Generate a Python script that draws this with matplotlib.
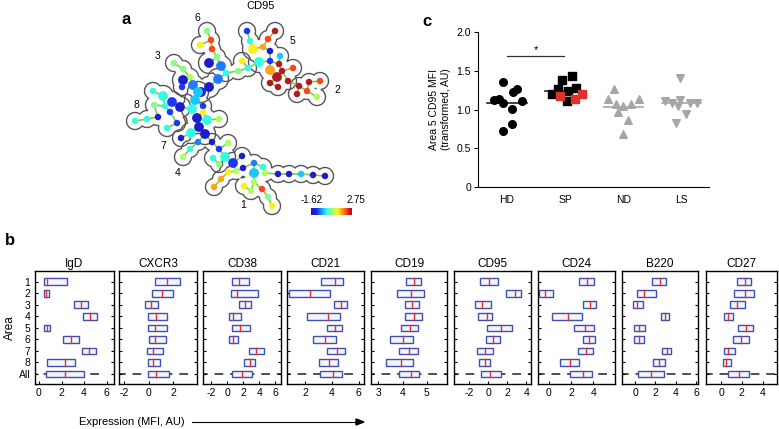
import numpy as np
import matplotlib.pyplot as plt
from matplotlib.colors import ListedColormap

plt.rcParams['font.family'] = ['Liberation Sans', 'DejaVu Sans']
plt.rcParams['axes.unicode_minus'] = False

W, H = 779, 429

# ---------------- panel a: CD95 tree ----------------
# colour classes -> CD95 value (scale -1.62 .. 2.75)
cls_val = {'DB': -1.35, 'B': -0.95, 'MB': -0.6, 'LB': -0.25, 'C': 0.05, 'LG': 0.55,
           'YG': 0.8, 'Y': 1.25, 'O': 1.65, 'R': 2.15, 'DR': 2.6}
cbar_min, cbar_max = -1.62, 2.75

# (x, y, colour class, big node) in picture pixels
area1 = [(233, 163, 'B', 1), (242, 156, 'DB', 0), (243, 168, 'DB', 0), (254, 163, 'MB', 0),
         (263, 167, 'C', 0), (254, 173, 'LB', 1), (265, 173, 'YG', 0), (278, 174, 'DB', 0),
         (289, 174, 'DB', 0), (301, 174, 'LB', 0), (313, 175, 'DB', 0), (325, 176, 'DB', 0),
         (236, 171, 'YG', 0), (228, 172, 'Y', 0), (221, 179, 'O', 0), (214, 187, 'O', 0),
         (254, 182, 'YG', 0), (244, 186, 'Y', 0), (251, 191, 'YG', 0), (262, 189, 'R', 0),
         (268, 197, 'LG', 0), (272, 206, 'Y', 0)]
area2 = [(299, 86, 'DR', 0), (309, 82, 'DR', 0), (320, 81, 'R', 0), (297, 94, 'DR', 0),
         (307, 91, 'R', 0), (317, 97, 'YG', 0)]
area3 = [(174, 63, 'LG', 0), (183, 69, 'LG', 0), (190, 77, 'YG', 0), (183, 80, 'DB', 1),
         (182, 87, 'B', 0), (193, 85, 'MB', 1), (201, 92, 'DB', 1), (209, 87, 'DB', 1),
         (218, 79, 'MB', 1)]
area4 = [(198, 142, 'MB', 0), (212, 142, 'DB', 0), (190, 149, 'C', 0), (183, 157, 'YG', 0),
         (219, 149, 'B', 0), (228, 143, 'YG', 0), (213, 158, 'C', 0), (225, 157, 'C', 1),
         (219, 164, 'LG', 0)]
area5 = [(247, 31, 'B', 0), (250, 41, 'C', 0), (253, 49, 'Y', 1), (263, 47, 'O', 0),
         (268, 39, 'R', 0), (275, 31, 'DR', 0), (270, 51, 'DB', 0), (280, 56, 'LB', 0),
         (259, 62, 'C', 1), (270, 61, 'B', 0), (279, 64, 'DR', 0), (293, 68, 'R', 0),
         (270, 70, 'O', 1), (282, 71, 'DR', 0), (277, 77, 'DR', 1), (270, 83, 'DR', 0),
         (278, 87, 'DR', 0), (288, 81, 'DR', 0)]
area6 = [(207, 31, 'LG', 0), (211, 40, 'R', 0), (200, 45, 'Y', 0), (212, 49, 'R', 0),
         (217, 57, 'LG', 0), (209, 63, 'DB', 1), (221, 66, 'MB', 1), (226, 73, 'C', 0),
         (242, 61, 'Y', 0), (238, 71, 'LG', 0), (248, 68, 'C', 0)]
area7 = [(198, 92, 'LB', 1), (195, 100, 'LB', 1), (203, 106, 'B', 0), (192, 109, 'C', 1),
         (203, 112, 'Y', 0), (197, 118, 'DB', 1), (207, 120, 'C', 1), (219, 119, 'YG', 0),
         (199, 127, 'DB', 1), (205, 134, 'DB', 1), (191, 133, 'C', 1), (181, 138, 'DB', 0)]
area8 = [(153, 91, 'C', 0), (163, 96, 'C', 1), (172, 102, 'B', 1), (165, 106, 'C', 0),
         (154, 105, 'LG', 0), (180, 107, 'DB', 1), (170, 112, 'B', 0), (158, 117, 'DB', 0),
         (147, 119, 'C', 0), (135, 121, 'C', 0), (177, 123, 'B', 0), (167, 128, 'C', 0)]
areas = [area1, area2, area3, area4, area5, area6, area7, area8]
area_label_pos = [(243, 205), (337, 90), (158, 56), (178, 173), (292, 41), (197, 18), (163, 146), (136, 105)]

# ---------------- panel b: box summaries ----------------
markers = ['IgD', 'CXCR3', 'CD38', 'CD21', 'CD19', 'CD95', 'CD24', 'B220', 'CD27']
row_labels = ['1', '2', '3', '4', '5', '6', '7', '8', 'All']
xlims = [(-0.35, 6.65), (-2.38, 3.97), (-3.0, 6.67), (0.68, 6.42), (2.68, 5.86),
         (-3.61, 4.46), (-0.96, 5.98), (-1.31, 6.16), (-1.48, 5.39)]
xticks = [[0, 2, 4, 6], [-2, 0, 2], [-2, 0, 2, 4, 6], [2, 4, 6], [3, 4, 5],
          [-2, 0, 2, 4], [0, 2, 4], [0, 2, 4, 6], [0, 2, 4]]
q1 = [[0.47, 0.41, 3.10, 3.93, 0.47, 2.13, 3.84, 0.74, 0.62],
      [0.55, 0.30, -0.30, -0.03, -0.03, 0.05, -0.14, -0.08, -0.03],
      [0.54, 0.46, 1.46, 0.25, 0.63, 0.25, 2.75, 2.08, 0.63],
      [3.22, 0.83, 4.19, 2.15, 3.61, 2.57, 3.61, 3.01, 3.11],
      [4.13, 3.77, 4.09, 4.12, 3.95, 3.47, 3.84, 3.30, 3.86],
      [-0.88, 1.82, -1.44, -1.12, -0.14, -0.21, -1.19, -1.02, -0.77],
      [2.70, -0.90, 3.06, 0.24, 2.28, 3.03, 2.64, 0.99, 1.92],
      [1.70, 0.16, -0.23, 2.52, -0.10, -0.10, 2.62, 1.74, 0.30],
      [1.58, 1.23, 0.87, 0.26, 1.68, 1.13, 0.26, 0.16, 0.65]]
med = [[0.71, 0.65, 3.72, 4.52, 0.71, 2.87, 4.46, 2.28, 2.28],
       [1.51, 1.12, 0.19, 0.63, 0.55, 0.55, 0.33, 0.36, 0.63],
       [1.50, 1.21, 2.25, 0.71, 1.63, 0.71, 3.54, 2.83, 1.79],
       [4.24, 2.37, 4.66, 3.74, 4.24, 3.52, 4.36, 3.81, 4.06],
       [4.48, 4.37, 4.41, 4.49, 4.32, 4.01, 4.28, 3.92, 4.34],
       [0.04, 2.77, -0.70, -0.18, 1.33, 0.53, -0.35, -0.35, 0.21],
       [3.45, -0.36, 3.66, 1.68, 3.27, 3.60, 3.36, 1.92, 3.03],
       [2.49, 0.89, 0.23, 2.92, 0.36, 0.36, 3.11, 2.36, 1.57],
       [2.35, 2.35, 1.55, 0.65, 2.45, 1.90, 0.65, 0.48, 1.74]]
q3 = [[2.45, 0.89, 4.32, 5.11, 0.95, 3.58, 5.05, 3.16, 3.99],
      [2.60, 1.97, 0.79, 1.51, 1.51, 1.45, 1.15, 0.90, 1.64],
      [2.71, 3.88, 2.96, 1.75, 2.88, 1.29, 4.58, 3.50, 3.08],
      [4.81, 3.89, 5.11, 4.63, 4.78, 4.34, 4.96, 4.48, 4.73],
      [4.78, 4.88, 4.70, 4.82, 4.66, 4.45, 4.66, 4.42, 4.70],
      [0.98, 3.44, 0.32, 0.42, 2.49, 1.26, 0.46, 0.21, 1.33],
      [4.02, 0.39, 4.26, 3.00, 4.05, 4.17, 3.99, 2.67, 3.87],
      [3.02, 2.07, 0.82, 3.31, 0.98, 0.92, 3.51, 2.92, 2.85],
      [2.87, 3.13, 2.26, 1.19, 3.03, 2.65, 1.39, 0.97, 2.65]]
all_whisk = [(-1.0, 5.35), (-2.6, 3.56), (-3.5, 7.0), (0.3, 5.85), (2.5, 6.0),
             (-4.0, 4.6), (-1.2, 5.2), (-1.5, 6.5), (-1.6, 5.5)]

# ---------------- panel c: area 5 CD95 MFI ----------------
groups = ['HD', 'SP', 'ND', 'LS']
hd_dx = [-0.07, 0.10, 0.17, -0.22, -0.14, -0.07, 0.25, 0.09, 0.09, -0.07]
hd_y = [1.35, 1.23, 1.27, 1.12, 1.14, 1.09, 1.11, 1.01, 0.81, 0.72]
sp_dx = [-0.05, 0.11, -0.13, 0.04, 0.19, -0.22, 0.03]
sp_y = [1.38, 1.43, 1.26, 1.24, 1.28, 1.20, 1.11]
sp_red_dx = [-0.09, 0.16, 0.28]
sp_red_y = [1.17, 1.14, 1.20]
nd_dx = [-0.16, -0.27, 0.26, -0.13, 0.0, 0.13, -0.09, 0.08, 0.0]
nd_y = [1.27, 1.14, 1.13, 1.07, 1.05, 1.07, 0.97, 0.86, 0.69]
ls_dx = [-0.02, -0.28, -0.17, -0.02, 0.14, 0.27, -0.06, 0.07, -0.09]
ls_y = [1.41, 1.11, 1.09, 1.12, 1.08, 1.08, 1.04, 0.94, 0.83]
sig_y = 1.685


def px_box(x0, y0, x1, y1):
    return [x0 / W, 1 - y1 / H, (x1 - x0) / W, (y1 - y0) / H]


# jet, slightly washed out like the printed figure
jet = plt.get_cmap('jet')(np.linspace(0, 1, 256))
soft_jet = ListedColormap(jet[:, :3] * 0.88 + 0.12 * np.array([0.95, 0.95, 0.95]))

fig = plt.figure(figsize=(W / 100, H / 100), dpi=100)

# ===== panel a =====
axa = fig.add_axes(px_box(120, 0, 360, 225))
axa.set_xlim(120, 360)
axa.set_ylim(225, 0)
axa.axis('off')

nx = np.array([n[0] for a in areas for n in a], float)
ny = np.array([n[1] for a in areas for n in a], float)
nv = np.array([cls_val[n[2]] for a in areas for n in a])
nbig = np.array([n[3] for a in areas for n in a])

# minimum spanning tree (Prim) to connect the nodes
n = len(nx)
dist = np.hypot(nx[:, None] - nx[None, :], ny[:, None] - ny[None, :])
in_tree = np.zeros(n, bool)
in_tree[0] = True
best = dist[0].copy()
parent = np.zeros(n, int)
for _ in range(n - 1):
    cand = np.where(in_tree, np.inf, best)
    j = int(np.argmin(cand))
    in_tree[j] = True
    axa.plot([nx[j], nx[parent[j]]], [ny[j], ny[parent[j]]], color='#86c84a', lw=1.2, zorder=2)
    upd = (dist[j] < best) & ~in_tree
    best[upd] = dist[j][upd]
    parent[upd] = j

# outlines around each area
gx, gy = np.meshgrid(np.arange(120, 360, 0.5), np.arange(0, 225, 0.5))
for a in areas:
    ax_ = np.array([p[0] for p in a], float)
    ay_ = np.array([p[1] for p in a], float)
    ar_ = np.array([2.0 if p[3] else 0.0 for p in a])
    d = np.min(np.hypot(gx[..., None] - ax_, gy[..., None] - ay_) - ar_, axis=-1)
    axa.contour(gx, gy, d, levels=[8.5], colors='#555555', linewidths=1.0, zorder=1)

sc = axa.scatter(nx, ny, s=np.where(nbig == 1, 50, 22), c=nv, cmap=soft_jet,
                 vmin=cbar_min, vmax=cbar_max, edgecolors='none', zorder=3)
for i, (lx, ly) in enumerate(area_label_pos):
    axa.text(lx, ly, str(i + 1), fontsize=7.5, ha='center', va='center')
axa.text(261, 6, 'CD95', fontsize=8, ha='center', va='center')
axa.text(126, 20, 'a', fontsize=12, fontweight='bold', ha='center', va='center')

cax = fig.add_axes(px_box(311, 208, 352, 215))
cb = fig.colorbar(sc, cax=cax, orientation='horizontal')
cb.set_ticks([])
cb.outline.set_visible(False)
fig.text(312 / W, 1 - 200 / H, '%.2f' % cbar_min, fontsize=7, ha='center', va='center')
fig.text(356 / W, 1 - 200 / H, '%.2f' % cbar_max, fontsize=7, ha='center', va='center')

# ===== panel b =====
lefts = [35, 119.3, 203.3, 287.3, 370.7, 454, 538.3, 621.7, 705.7]
widths = [79, 78, 77.4, 77, 76.7, 76.7, 77, 76, 71.3]
rows = np.arange(1, 10)
for k, name in enumerate(markers):
    ax = fig.add_axes(px_box(lefts[k], 271, lefts[k] + widths[k], 384))
    ax.set_xlim(*xlims[k])
    ax.set_ylim(9.87, 0.07)
    lo, hi = all_whisk[k]
    ax.plot([lo, hi], [9, 9], color='#505050', lw=1.4, dashes=(4.5, 3.5), zorder=1)
    for r in range(9):
        ax.barh(rows[r], q3[k][r] - q1[k][r], left=q1[k][r], height=0.58,
                facecolor='#f4f4fb', edgecolor='#4050b0', lw=1.0, zorder=2)
        ax.plot([med[k][r]] * 2, [rows[r] - 0.29, rows[r] + 0.29], color='#e03030', lw=1.0, zorder=3)
    ax.set_xticks(xticks[k])
    ax.set_yticks(rows)
    ax.tick_params(axis='y', direction='in', length=2.5, width=0.8, right=True)
    ax.tick_params(axis='x', direction='in', length=2, width=0.8, labelsize=7.5, pad=3)
    if k == 0:
        ax.set_yticklabels(row_labels, fontsize=7.5)
        ax.set_ylabel('Area', fontsize=8.5, labelpad=2)
    else:
        ax.set_yticklabels([])
    ax.set_title(name, fontsize=8.5, pad=3)
    for s in ax.spines.values():
        s.set_linewidth(1.0)

fig.text(5 / W, 1 - 240 / H, 'b', fontsize=12, fontweight='bold', ha='left', va='center')
fig.text(132 / W, 1 - 422 / H, 'Expression (MFI, AU)', fontsize=8, ha='center', va='center')
fig.add_artist(plt.Line2D([192 / W, 356 / W], [1 - 422 / H] * 2, color='black', lw=0.8))
fig.patches.append(plt.Polygon([[356 / W, 1 - 419 / H], [364 / W, 1 - 422 / H], [356 / W, 1 - 425 / H]],
                               closed=True, color='black', transform=fig.transFigure))

# ===== panel c =====
axc = fig.add_axes(px_box(478, 32, 709, 187))
axc.set_xlim(-0.5, 3.47)
axc.set_ylim(0, 2.0)
axc.scatter(0 + np.array(hd_dx), hd_y, marker='o', s=30, color='black', zorder=3)
axc.scatter(1 + np.array(sp_dx), sp_y, marker='s', s=26, color='black', zorder=3)
axc.scatter(1 + np.array(sp_red_dx), sp_red_y, marker='s', s=26, color='#e0302a', zorder=3)
axc.scatter(2 + np.array(nd_dx), nd_y, marker='^', s=30, color='#a6a6a6', zorder=3)
axc.scatter(3 + np.array(ls_dx), ls_y, marker='v', s=30, color='#a6a6a6', zorder=3)
group_y = [hd_y, sp_y + sp_red_y, nd_y, ls_y]
line_cols = ['#222222', '#222222', '#a6a6a6', '#a6a6a6']
for i, yv in enumerate(group_y):
    axc.plot([i - 0.34, i + 0.34], [np.mean(yv)] * 2, color=line_cols[i], lw=1.2, zorder=2)
axc.plot([0, 0.98], [sig_y, sig_y], color='#333333', lw=0.9)
axc.text(0.49, sig_y + 0.02, '*', fontsize=8, ha='center', va='bottom')
axc.set_xticks(range(4))
axc.set_xticklabels(groups, fontsize=7.5)
axc.set_yticks([0, 0.5, 1.0, 1.5, 2.0])
axc.set_yticklabels(['0', '0.5', '1.0', '1.5', '2.0'], fontsize=7.5)
axc.tick_params(length=3, width=0.8, pad=2)
axc.tick_params(axis='x', length=0, pad=6)
axc.spines['top'].set_visible(False)
axc.spines['right'].set_visible(False)
axc.set_ylabel('Area 5 CD95 MFI\n(transformed, AU)', fontsize=7.5, labelpad=4)
fig.text(427 / W, 1 - 21 / H, 'c', fontsize=12, fontweight='bold', ha='center', va='center')

fig.savefig('out.png', dpi=100)
